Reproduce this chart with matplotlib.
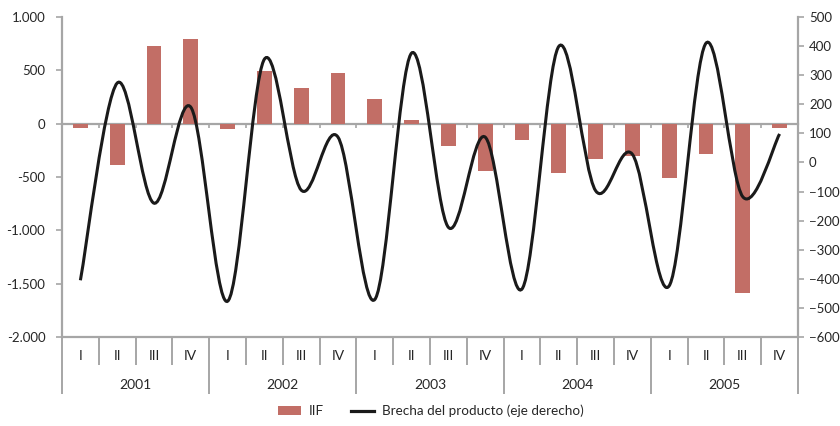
import matplotlib
matplotlib.use("Agg")
import matplotlib.pyplot as plt
import numpy as np
from matplotlib.path import Path
from matplotlib.patches import PathPatch, Patch
from matplotlib.lines import Line2D
from matplotlib.ticker import FuncFormatter, FixedLocator, NullLocator
from matplotlib.transforms import blended_transform_factory

plt.rcParams['font.family'] = ['Lato', 'DejaVu Sans']

# Data
years = ["2001", "2002", "2003", "2004", "2005"]
quarters = ["I", "II", "III", "IV"]
iif = [-45, -390, 730, 790,
       -50, 490, 337, 478,
       234, 38, -213, -447,
       -156, -466, -335, -306,
       -512, -288, -1590, -45]
brecha = [-405, 273, -140, 190,
          -477, 355, -95, 87,
          -471, 376, -223, 87,
          -435, 399, -97, 28,
          -424, 410, -118, 98]

BAR = "#C26E66"
GRID = "#A6A6A6"
TXT = "#262626"

fig = plt.figure(figsize=(8.4, 4.26), dpi=100)
ax = fig.add_axes([62 / 840, 1 - 337 / 426, 736 / 840, 320 / 426])
ax2 = ax.twinx()

n = len(iif)
x = np.arange(n)

ax.bar(x, iif, width=0.4, color=BAR, zorder=2)
ax.set_xlim(-0.5, n - 0.5)
ax.set_ylim(-2000, 1000)
ax.set_yticks(np.arange(-2000, 1001, 500))
ax.yaxis.set_major_formatter(FuncFormatter(lambda v, p: f"{int(v):,}".replace(",", ".")))

# Smoothed line (cubic Bezier through every point, Catmull-Rom tangents)
pts = np.column_stack([x, brecha]).astype(float)
ext = np.vstack([pts[0], pts, pts[-1]])
verts = [tuple(pts[0])]
codes = [Path.MOVETO]
for i in range(n - 1):
    p0, p1, p2, p3 = ext[i], ext[i + 1], ext[i + 2], ext[i + 3]
    c1 = p1 + (p2 - p0) / 6.0
    c2 = p2 - (p3 - p1) / 6.0
    verts += [tuple(c1), tuple(c2), tuple(p2)]
    codes += [Path.CURVE4] * 3
ax2.add_patch(PathPatch(Path(verts, codes), fill=False, edgecolor="#1A1A1A",
                        lw=2.2, capstyle="butt", zorder=3))
ax2.set_ylim(-600, 500)
ax2.set_yticks(np.arange(-600, 501, 100))
ax2.set_xlim(-0.5, n - 0.5)

# Spines and ticks
for a in (ax, ax2):
    for s in a.spines.values():
        s.set_visible(False)
    a.tick_params(axis="y", colors=GRID, labelcolor=TXT, labelsize=9.5,
                  length=4, width=1.2, direction="out")

ax.spines["left"].set_visible(True)
ax.spines["left"].set_color(GRID)
ax.spines["left"].set_linewidth(1.6)
ax2.spines["right"].set_visible(True)
ax2.spines["right"].set_color(GRID)
ax2.spines["right"].set_linewidth(1.6)
ax.tick_params(axis="y", pad=8)
ax2.tick_params(axis="y", pad=4)

# Category axis crossing at zero with boundary ticks
ax.spines["bottom"].set_visible(True)
ax.spines["bottom"].set_position(("data", 0))
ax.spines["bottom"].set_color(GRID)
ax.spines["bottom"].set_linewidth(1.6)
ax.spines["bottom"].set_zorder(1)
ax.xaxis.set_major_locator(NullLocator())
ax.xaxis.set_minor_locator(FixedLocator(np.arange(0.5, n - 0.5, 1.0)))
ax.tick_params(axis="x", which="minor", colors=GRID, length=3, width=1.2,
               direction="out")

# Multi-level category labels below the plot
tr = blended_transform_factory(ax.transData, ax.transAxes)
ax.plot([-0.5, n - 0.5], [0, 0], transform=tr, color=GRID, lw=1.6,
        clip_on=False, solid_capstyle="butt")
for b in np.arange(-0.5, n, 1.0):
    is_year = (b + 0.5) % 4 == 0
    y_end = -0.178 if is_year else -0.0875
    ax.plot([b, b], [0, y_end], transform=tr, color=GRID, lw=1.4,
            clip_on=False, solid_capstyle="butt")
for i in range(n):
    ax.text(i, -0.059, quarters[i % 4], transform=tr, ha="center", va="center",
            fontsize=10, color=TXT)
for k, yr in enumerate(years):
    ax.text(4 * k + 1.5, -0.15, yr, transform=tr, ha="center", va="center",
            fontsize=10, color=TXT)

# Legend
handles = [Patch(facecolor=BAR, edgecolor="none"),
           Line2D([], [], color="#1A1A1A", lw=2.3)]
fig.legend(handles, ["IIF", "Brecha del producto (eje derecho)"],
           loc="center", bbox_to_anchor=(431 / 840, 1 - 411 / 426), ncol=2,
           frameon=False, fontsize=9.7, handlelength=1.7, handleheight=0.55,
           columnspacing=2.0, handletextpad=0.6, labelcolor=TXT)

fig.savefig("out.png", dpi=100)
